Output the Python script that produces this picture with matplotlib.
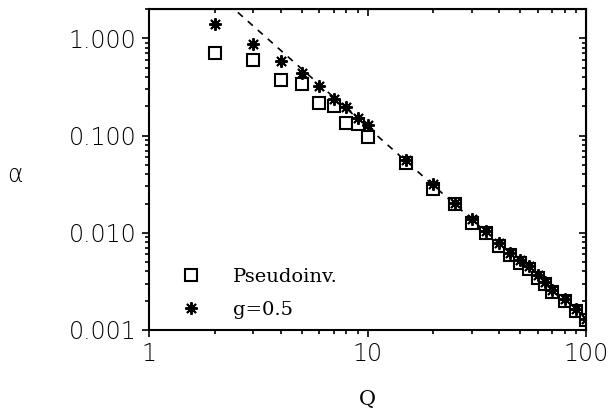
import numpy as np
import matplotlib
matplotlib.use("Agg")
import matplotlib.pyplot as plt
from matplotlib.ticker import FormatStrFormatter, LogLocator, NullFormatter

# values
q_vals = [2, 3, 4, 5, 6, 7, 8, 9, 10, 15, 20, 25, 30, 35, 40,
          45, 50, 55, 60, 65, 70, 80, 90, 100]
alpha_pinv = [0.71, 0.60, 0.37, 0.336, 0.214, 0.20, 0.134, 0.132, 0.096,
              0.0518, 0.0282, 0.0199, 0.0127, 0.0100, 0.00734,
              0.00593, 0.00488, 0.00422, 0.00346, 0.00296, 0.00248,
              0.0020, 0.00157, 0.00127]
alpha_g05 = [1.39, 0.87, 0.59, 0.435, 0.32, 0.24, 0.195, 0.153, 0.127,
             0.0566, 0.032, 0.0204, 0.0139, 0.0105, 0.0079,
             0.00626, 0.0052, 0.0045, 0.0037, 0.0031, 0.0026,
             0.0021, 0.00165, 0.0013]
# dashed power-law guide line (end points)
line_q = [2.55, 100]
line_alpha = [1.85, 0.00125]

sans = ["DejaVu Sans", "Liberation Sans"]
serif = ["DejaVu Serif", "Liberation Serif"]

fig = plt.figure(figsize=(6.08, 4.13), dpi=100)
ax = fig.add_axes([0.245, 0.201, 0.719, 0.777])

ax.plot(line_q, line_alpha, color="black", lw=1.2, ls=(0, (4, 4)))
ax.plot(q_vals, alpha_pinv, ls="none", marker="s", ms=8, mfc="white",
        mec="black", mew=1.5, label="Pseudoinv.")
ax.plot(q_vals, alpha_g05, ls="none", marker=(8, 2, 0), ms=9,
        color="black", mew=1.4, label="g=0.5")

ax.set_xscale("log")
ax.set_yscale("log")
ax.set_xlim(1, 100)
ax.set_ylim(0.001, 2.0)

ax.xaxis.set_major_formatter(FormatStrFormatter("%g"))
ax.yaxis.set_major_formatter(FormatStrFormatter("%.3f"))
ax.xaxis.set_minor_formatter(NullFormatter())
ax.yaxis.set_minor_formatter(NullFormatter())
ax.yaxis.set_major_locator(LogLocator(base=10, numticks=10))
ax.yaxis.set_minor_locator(LogLocator(base=10, subs=np.arange(2, 10), numticks=20))

ax.tick_params(which="both", direction="out", width=1.2, labelsize=17,
               top=False, right=False)
ax.tick_params(which="major", length=5, pad=4)
ax.tick_params(which="minor", length=3)
for lab in ax.get_xticklabels() + ax.get_yticklabels():
    lab.set_family(sans)
    lab.set_fontweight(200)
for sp in ax.spines.values():
    sp.set_linewidth(1.5)

# inward ticks on the top and right sides
top = ax.secondary_xaxis("top")
top.tick_params(which="both", direction="in", width=1.2, labeltop=False)
top.tick_params(which="major", length=5)
top.tick_params(which="minor", length=3)
right = ax.secondary_yaxis("right")
right.tick_params(which="both", direction="in", width=1.2, labelright=False)
right.tick_params(which="major", length=5)
right.tick_params(which="minor", length=3)
right.yaxis.set_minor_locator(LogLocator(base=10, subs=np.arange(2, 10), numticks=20))

ax.legend(loc="lower left", bbox_to_anchor=(0.073, 0.035), frameon=False,
          borderpad=0, borderaxespad=0, handlelength=1.0, handletextpad=1.68,
          labelspacing=0.75, numpoints=1,
          prop={"family": serif, "size": 14})

fig.text(367 / 608, 1 - 400 / 413, "Q", family=serif, fontsize=15,
         ha="center", va="center")
fig.text(15 / 608, 1 - 175 / 413, "α", family=sans, fontsize=17,
         ha="center", va="center", fontweight=200)

fig.savefig("out.png", dpi=100)
